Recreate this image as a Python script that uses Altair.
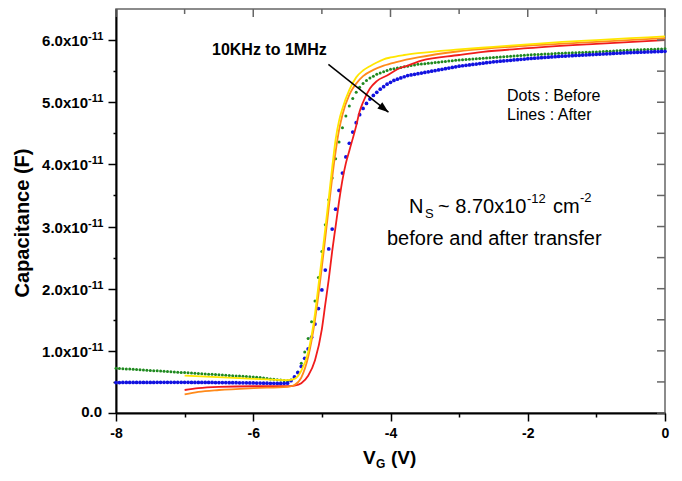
import altair as alt
import pandas as pd

# ---------------- data (capacitance in units of 1e-11 F) ----------------
v_dots = [round(-8 + 0.05 * i, 2) for i in range(161)]

green_before = [
    0.720, 0.716, 0.713, 0.709, 0.706, 0.702, 0.699, 0.695, 0.692, 0.688,
    0.685, 0.681, 0.678, 0.674, 0.671, 0.667, 0.664, 0.660, 0.657, 0.653,
    0.650, 0.646, 0.643, 0.639, 0.636, 0.632, 0.629, 0.625, 0.622, 0.618,
    0.615, 0.611, 0.608, 0.604, 0.601, 0.597, 0.594, 0.590, 0.587, 0.583,
    0.580,
    0.575, 0.570, 0.563, 0.556, 0.549, 0.542, 0.535, 0.529, 0.524, 0.520,
    0.53, 0.57, 0.66, 0.80, 0.98, 1.20, 1.47, 1.80, 2.18, 2.60,
    3.03, 3.43, 3.78, 4.09, 4.36, 4.59, 4.78, 4.94, 5.06, 5.16,
    5.24, 5.30, 5.35, 5.39, 5.42, 5.45, 5.47, 5.49, 5.51, 5.53,
    5.54, 5.55, 5.56, 5.57, 5.58, 5.59, 5.60, 5.61, 5.615, 5.62,
    5.626, 5.632, 5.638, 5.644, 5.65, 5.656, 5.662, 5.668, 5.674, 5.68,
    5.684, 5.688, 5.692, 5.696, 5.70, 5.704, 5.708, 5.712, 5.716, 5.72,
    5.724, 5.728, 5.732, 5.736, 5.74, 5.744, 5.748, 5.752, 5.756, 5.76,
    5.763, 5.766, 5.769, 5.772, 5.775, 5.778, 5.781, 5.784, 5.787, 5.79,
    5.792, 5.794, 5.796, 5.798, 5.80, 5.802, 5.804, 5.806, 5.808, 5.81,
    5.813, 5.816, 5.819, 5.822, 5.825, 5.828, 5.831, 5.834, 5.837, 5.84,
    5.842, 5.844, 5.846, 5.848, 5.85, 5.852, 5.854, 5.856, 5.858, 5.86,
]

blue_before = [
    0.490, 0.490, 0.491, 0.491, 0.491, 0.492, 0.492, 0.492, 0.492, 0.492,
    0.492, 0.492, 0.493, 0.493, 0.493, 0.493, 0.493, 0.493, 0.493, 0.493,
    0.493, 0.493, 0.492, 0.492, 0.492, 0.492, 0.491, 0.491, 0.491, 0.490,
    0.490, 0.489, 0.489, 0.488, 0.488, 0.487, 0.486, 0.486, 0.485, 0.484,
    0.483, 0.482, 0.481, 0.480, 0.479, 0.478, 0.477, 0.476, 0.476, 0.477,
    0.480,
    0.52, 0.58, 0.65, 0.75, 0.88, 1.03, 1.22, 1.43, 1.68, 1.98,
    2.30, 2.64, 2.96, 3.28, 3.58, 3.86, 4.12, 4.34, 4.52, 4.67,
    4.80, 4.90, 4.98, 5.05, 5.11, 5.16, 5.21, 5.25, 5.29, 5.32,
    5.35, 5.37, 5.39, 5.41, 5.43, 5.44, 5.45, 5.46, 5.47, 5.48,
    5.49, 5.50, 5.51, 5.52, 5.53, 5.54, 5.55, 5.56, 5.57, 5.58,
    5.587, 5.594, 5.601, 5.608, 5.615, 5.622, 5.629, 5.636, 5.643, 5.65,
    5.655, 5.66, 5.665, 5.67, 5.675, 5.68, 5.685, 5.69, 5.695, 5.70,
    5.704, 5.708, 5.712, 5.716, 5.72, 5.724, 5.728, 5.732, 5.736, 5.74,
    5.743, 5.746, 5.749, 5.752, 5.755, 5.758, 5.761, 5.764, 5.767, 5.77,
    5.773, 5.776, 5.779, 5.782, 5.785, 5.788, 5.791, 5.794, 5.797, 5.80,
    5.802, 5.804, 5.806, 5.808, 5.81, 5.812, 5.814, 5.816, 5.818, 5.82,
]

yellow_v = [-7.0, -6.6, -6.2, -5.8, -5.5, -5.4, -5.3, -5.2, -5.1, -5.05,
            -5.0, -4.95, -4.9, -4.85, -4.8, -4.75, -4.7, -4.6, -4.5, -4.4,
            -4.3, -4.2, -4.1, -4.0, -3.8, -3.6, -3.0, -2.5, -2.0, -1.5,
            -1.0, -0.5, 0.0]
yellow_c = [0.60, 0.58, 0.56, 0.54, 0.53, 0.55, 0.68, 0.98, 1.60, 2.05,
            2.50, 2.97, 3.45, 3.95, 4.40, 4.70, 4.90, 5.20, 5.40, 5.51,
            5.58, 5.64, 5.69, 5.72, 5.76, 5.79, 5.85, 5.89, 5.93, 5.97,
            6.00, 6.03, 6.06]

orange_v = [-7.0, -6.8, -6.5, -6.0, -5.5, -5.4, -5.3, -5.2, -5.1, -5.05,
            -5.0, -4.95, -4.9, -4.85, -4.8, -4.75, -4.7, -4.6, -4.55, -4.5,
            -4.4, -4.25, -4.1, -3.9, -3.6, -3.0, -2.0, -1.0, 0.0]
orange_c = [0.30, 0.34, 0.37, 0.40, 0.42, 0.45, 0.57, 0.90, 1.50, 1.90,
            2.35, 2.82, 3.30, 3.78, 4.20, 4.55, 4.80, 5.12, 5.22, 5.30,
            5.42, 5.52, 5.59, 5.65, 5.72, 5.82, 5.91, 5.97, 6.03]

red_v = [-7.0, -6.8, -6.5, -6.0, -5.5, -5.4, -5.3, -5.2, -5.1, -5.0,
         -4.95, -4.9, -4.85, -4.8, -4.75, -4.7, -4.65, -4.6, -4.5, -4.45,
         -4.4, -4.3, -4.2, -4.05, -3.9, -3.75, -3.55, -3.0, -2.65, -2.0,
         -1.0, 0.0]
red_c = [0.37, 0.40, 0.42, 0.43, 0.43, 0.44, 0.48, 0.60, 0.85, 1.35,
         1.75, 2.15, 2.60, 3.00, 3.40, 3.75, 4.02, 4.22, 4.62, 4.85,
         5.00, 5.22, 5.34, 5.43, 5.53, 5.59, 5.67, 5.76, 5.81, 5.87,
         5.94, 6.00]

x_tick_values = [-8, -7, -6, -5, -4, -3, -2, -1, 0]
x_major = [-8, -6, -4, -2, 0]
x_minor = [-7, -5, -3, -1]
y_tick_values = [0, 0.5, 1, 1.5, 2, 2.5, 3, 3.5, 4, 4.5, 5, 5.5, 6]
y_label_values = [1, 2, 3, 4, 5, 6]
y_label_main = ["1.0x10", "2.0x10", "3.0x10", "4.0x10", "5.0x10", "6.0x10"]
y_label_sup = ["-11"] * 6

arrow_start = (-4.905, 5.61)
arrow_end = (-4.03, 4.84)

# ---------------- styling ----------------
W, H = 549, 404
FONT = "Liberation Sans"
GREEN = "#1f8a1f"
BLUE = "#1212e0"
YELLOW = "#ffe600"
ORANGE = "#ff8a1a"
RED = "#f01c1c"
FRAME = "#666666"

xs = alt.Scale(domain=[-8, 0], nice=False, zero=False)
ys = alt.Scale(domain=[0, 6.5], nice=False, zero=False)

x_axis = alt.Axis(
    values=x_tick_values,
    labelExpr="datum.value % 2 === 0 ? '' + datum.value : ''",
    labelFont=FONT, labelFontSize=14, labelFontWeight="bold", labelColor="black",
    labelPadding=5, labelFlush=False, labelOverlap=False,
    tickSize={"condition": {"test": "datum.value % 2 === 0", "value": 8}, "value": 4},
    tickColor="black", tickWidth=1.5,
    domainColor="black", domainWidth=2, grid=False, title=None,
)
y_axis = alt.Axis(
    values=y_tick_values, labels=False,
    tickSize={"condition": {"test": "datum.value % 1 === 0", "value": 8}, "value": 3},
    tickColor="black", tickWidth=1.5,
    domainColor="black", domainWidth=2, grid=False, title=None,
)


def XN():
    return alt.X("V:Q", scale=xs, axis=x_axis)


def YN():
    return alt.Y("C:Q", scale=ys, axis=y_axis)


df_green = pd.DataFrame({"V": v_dots, "C": green_before})
df_blue = pd.DataFrame({"V": v_dots, "C": blue_before})

green = alt.Chart(df_green).mark_circle(size=9, color=GREEN, opacity=1).encode(x=XN(), y=YN())
blue = alt.Chart(df_blue).mark_circle(size=14, color=BLUE, opacity=1).encode(x=XN(), y=YN())


def line(v, c, color):
    return alt.Chart(pd.DataFrame({"V": v, "C": c})).mark_line(
        color=color, strokeWidth=1.8, interpolate="monotone").encode(x=XN(), y=YN())


red = line(red_v, red_c, RED)
orange = line(orange_v, orange_c, ORANGE)
yellow = line(yellow_v, yellow_c, YELLOW)

df_arrow = pd.DataFrame({"V": [arrow_start[0]], "C": [arrow_start[1]],
                         "V2": [arrow_end[0]], "C2": [arrow_end[1]]})
arrow_line = alt.Chart(df_arrow).mark_rule(color="black", strokeWidth=1.5).encode(
    x=XN(), y=YN(), x2="V2:Q", y2="C2:Q")
arrow_head = alt.Chart(pd.DataFrame({"V": [arrow_end[0]], "C": [arrow_end[1]]})).mark_point(
    shape="M0,0L-0.36,1L0.36,1Z", filled=True, color="black", opacity=1,
    size=484, angle=128.6, strokeWidth=0).encode(x=XN(), y=YN())

top_major = alt.Chart(pd.DataFrame({"V": x_major})).mark_rule(color=FRAME, strokeWidth=1.5).encode(
    x=XN(), y=alt.value(0), y2=alt.value(8))
top_minor = alt.Chart(pd.DataFrame({"V": x_minor})).mark_rule(color=FRAME, strokeWidth=1.5).encode(
    x=XN(), y=alt.value(0), y2=alt.value(5))
right_ticks = alt.Chart(pd.DataFrame({"C": y_tick_values})).mark_rule(color=FRAME, strokeWidth=1.5).encode(
    y=YN(), x=alt.value(W - 8), x2=alt.value(W))

df_ylab = pd.DataFrame({"C": y_label_values, "main": y_label_main, "sup": y_label_sup})
ylab_main = alt.Chart(df_ylab).mark_text(
    align="right", baseline="middle", font=FONT, fontSize=15, fontWeight="bold",
    color="black", dy=1).encode(y=YN(), x=alt.value(-28), text="main:N")
ylab_sup = alt.Chart(df_ylab).mark_text(
    align="left", baseline="middle", font=FONT, fontSize=11, fontWeight="bold",
    color="black", dy=-3).encode(y=YN(), x=alt.value(-28), text="sup:N")
ylab_zero = alt.Chart(pd.DataFrame({"C": [0], "t": ["0.0"]})).mark_text(
    align="right", baseline="middle", font=FONT, fontSize=15, fontWeight="bold",
    color="black", dy=-1).encode(y=YN(), x=alt.value(-14), text="t:N")


def txt(t, x, y, size, weight="normal", align="left", baseline="alphabetic", angle=0):
    return alt.Chart(pd.DataFrame({"t": [t]})).mark_text(
        align=align, baseline=baseline, font=FONT, fontSize=size,
        fontWeight=weight, color="black", angle=angle).encode(
        x=alt.value(x), y=alt.value(y), text="t:N")


texts = [
    txt("Capacitance (F)", -93, 214, 20, "bold", "center", "middle", 270),
    txt("V", 247, 455, 19, "bold"),
    txt("G", 260, 459, 12, "bold"),
    txt("(V)", 275, 455, 19, "bold"),
    txt("10KHz to 1MHz", 96, 41, 16, "bold", "left", "middle"),
    txt("Dots : Before", 391, 87, 16, "normal", "left", "middle"),
    txt("Lines : After", 391, 106, 16, "normal", "left", "middle"),
    txt("N", 293, 204, 20),
    txt("S", 309, 209, 13),
    txt("~ 8.70x10", 322, 204, 20),
    txt("-12", 411, 194, 13),
    txt("cm", 437, 204, 20),
    txt("-2", 464, 193, 13),
    txt("before and after transfer", 271, 236, 20),
]

chart = alt.layer(
    green, blue, red, orange, yellow, arrow_line, arrow_head,
    top_major, top_minor, right_ticks, ylab_main, ylab_sup, ylab_zero, *texts
).properties(
    width=W, height=H,
    padding={"left": 108, "top": 1, "right": 9, "bottom": 60},
    autosize=alt.AutoSizeParams(type="none"),
    background="white",
).configure_view(stroke=FRAME, strokeWidth=1.5)

chart.save("out.html", embed_options={"renderer": "svg", "actions": False})
